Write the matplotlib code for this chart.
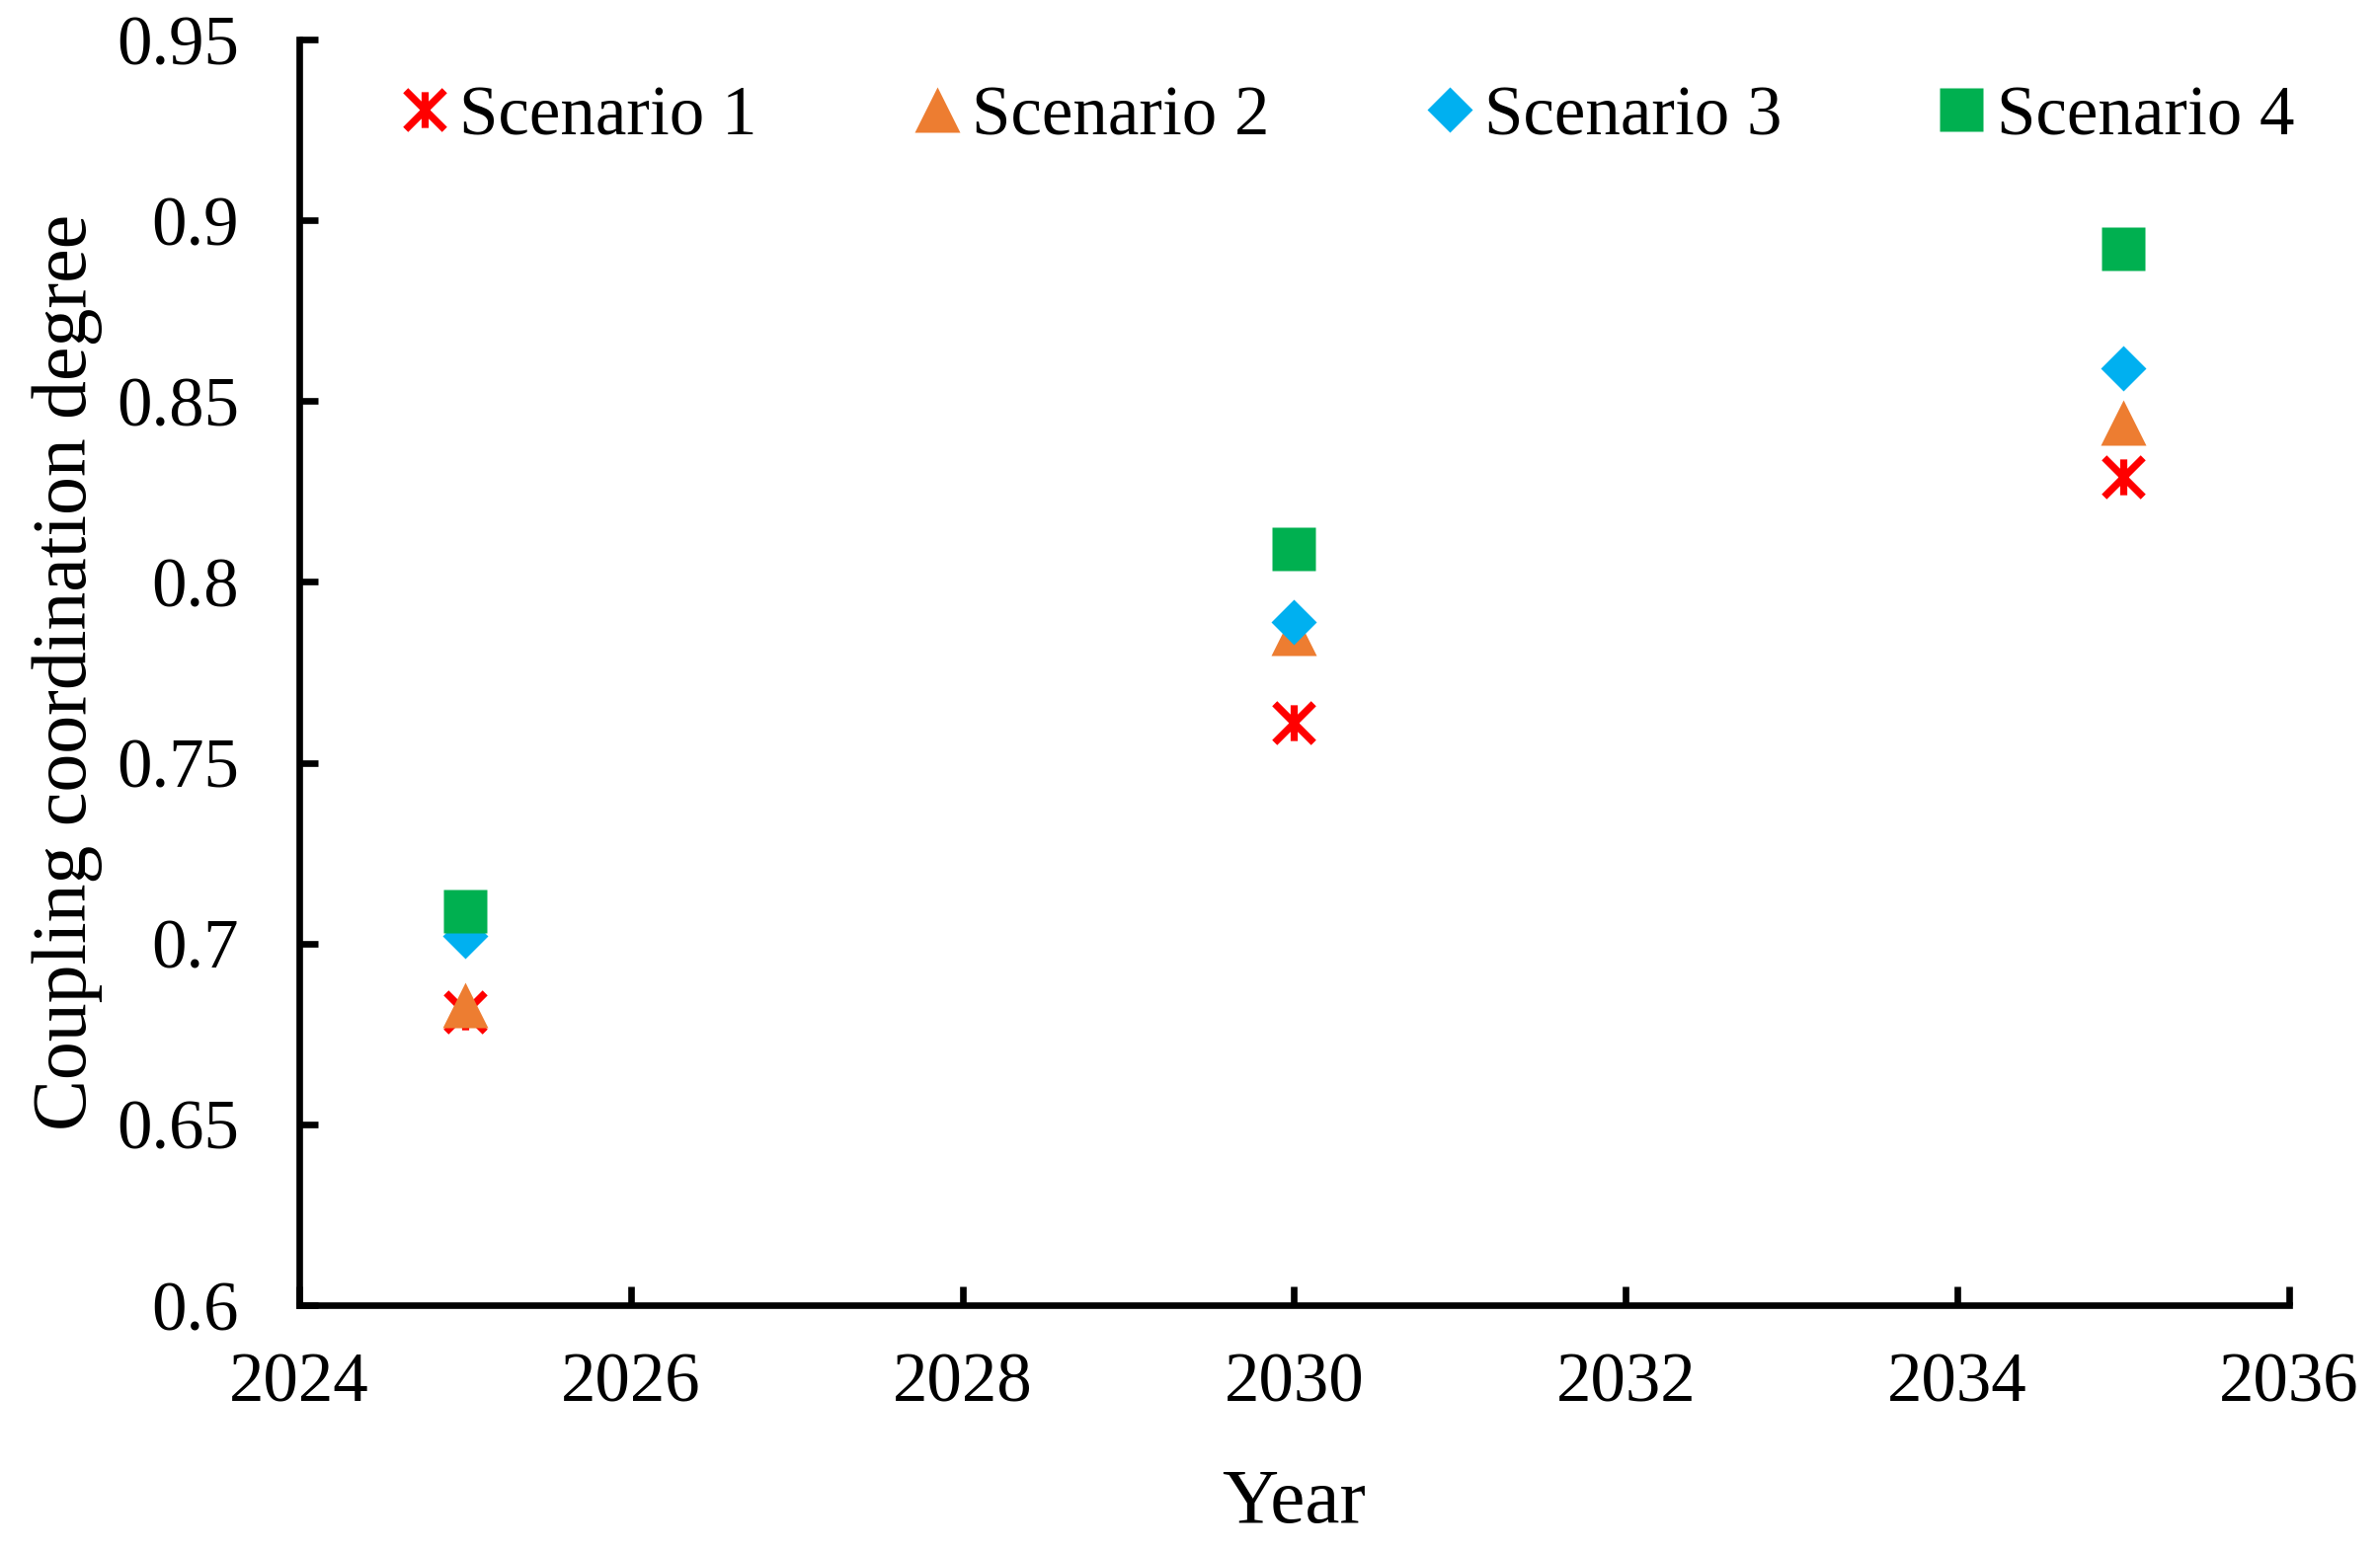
import matplotlib
matplotlib.use("Agg")
import matplotlib.pyplot as plt
from matplotlib.path import Path
from matplotlib.ticker import FuncFormatter, MultipleLocator

plt.rcParams['font.family'] = ['Liberation Serif', 'DejaVu Serif']

years = [2025, 2030, 2035]
scenario_names = ["Scenario 1", "Scenario 2", "Scenario 3", "Scenario 4"]
scenario_1 = [0.681, 0.761, 0.829]
scenario_2 = [0.683, 0.786, 0.844]
scenario_3 = [0.702, 0.789, 0.859]
scenario_4 = [0.709, 0.809, 0.892]

# excel style star: an x with a vertical bar through it
star = Path([(-1, -1), (1, 1), (-1, 1), (1, -1), (0, -0.92), (0, 0.92)],
            [Path.MOVETO, Path.LINETO, Path.MOVETO, Path.LINETO,
             Path.MOVETO, Path.LINETO])

styles = [
    dict(marker=star, ms=14.2, mec="#FF0000", mfc="none", mew=2.6),
    dict(marker="^", ms=16.5, mec="none", mfc="#ED7D31"),
    dict(marker="D", ms=11.6, mec="none", mfc="#00B0F0"),
    dict(marker="s", ms=16.0, mec="none", mfc="#00B050"),
]

fig = plt.figure(figsize=(12.05, 7.845), dpi=200)
ax = fig.add_axes([0.1257, 0.1574, 0.9618 - 0.1257, 0.9745 - 0.1574])

for name, vals, st in zip(scenario_names,
                          [scenario_1, scenario_2, scenario_3, scenario_4],
                          styles):
    ax.plot(years, vals, ls="none", label=name, **st)

ax.set_xlim(2024, 2036)
ax.set_ylim(0.6, 0.95)
ax.xaxis.set_major_locator(MultipleLocator(2))
ax.yaxis.set_major_locator(MultipleLocator(0.05))
ax.yaxis.set_major_formatter(FuncFormatter(lambda v, p: "%g" % round(v, 2)))

for side in ["top", "right"]:
    ax.spines[side].set_visible(False)
for side in ["left", "bottom"]:
    ax.spines[side].set_linewidth(2.4)

ax.tick_params(axis="both", direction="in", length=7, width=2.4,
               labelsize=25.5)
ax.tick_params(axis="x", pad=17)
ax.tick_params(axis="y", pad=22)

ax.set_xlabel("Year", fontsize=28.5, labelpad=19)
ax.set_ylabel("Coupling coordination degree", fontsize=28, labelpad=5)

ax.legend(loc="upper center", bbox_to_anchor=(0.524, 1.0), ncol=4,
          frameon=False, fontsize=25.5, handlelength=1.0, handletextpad=0.0,
          columnspacing=2.07, borderaxespad=0.25)

fig.savefig("out.png", dpi=200)
